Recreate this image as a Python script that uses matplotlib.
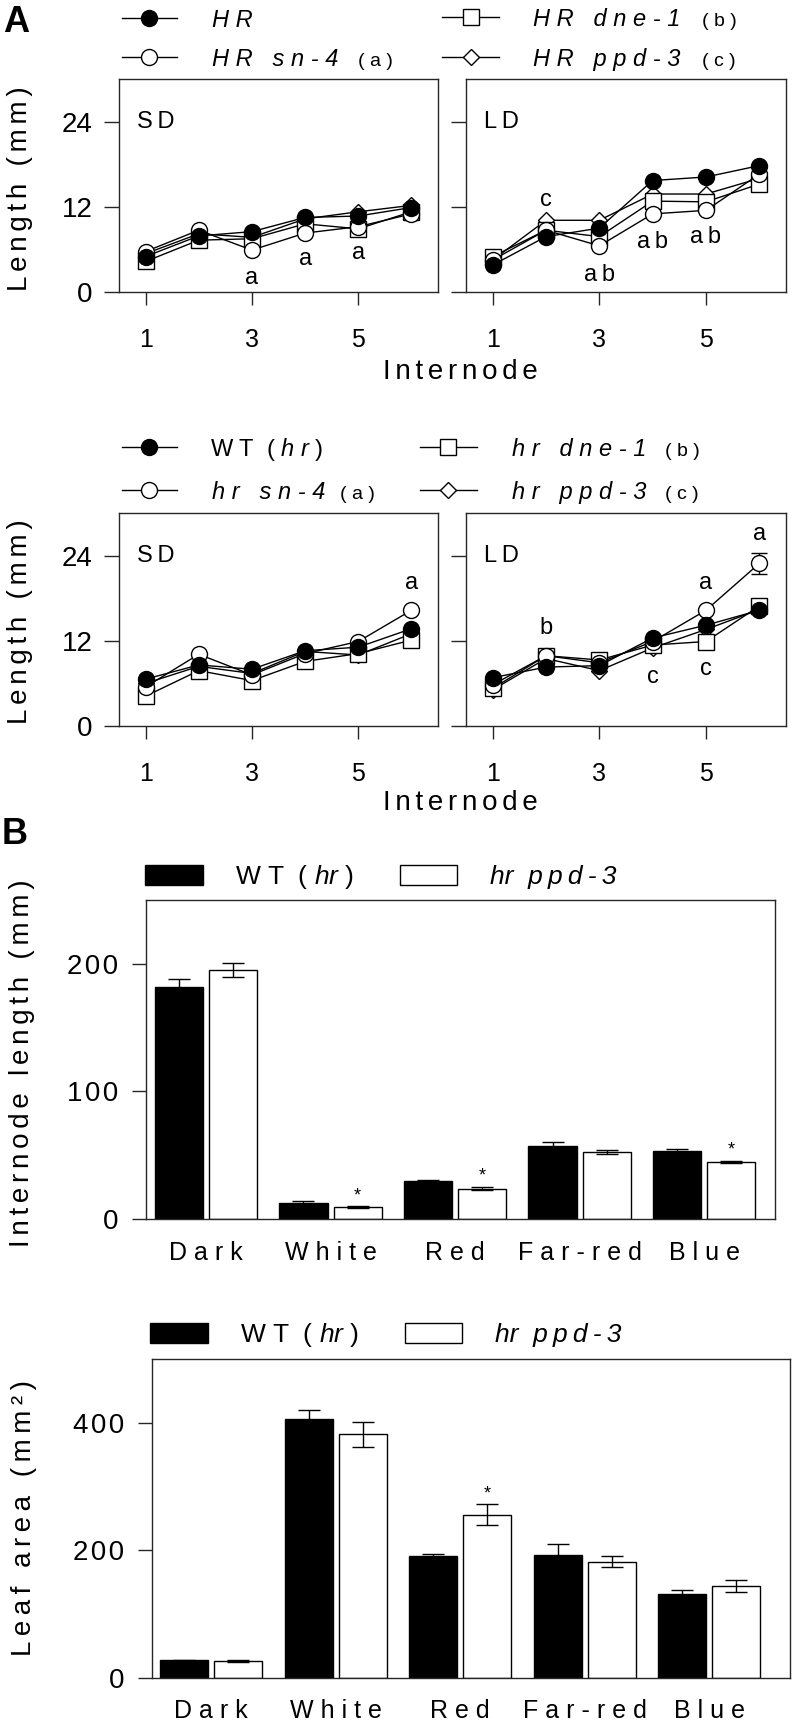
import numpy as np
import matplotlib
matplotlib.use("Agg")
import matplotlib.pyplot as plt
from matplotlib.lines import Line2D
from matplotlib.patches import Rectangle

# ---------------- data ----------------
internode = [1, 2, 3, 4, 5, 6]

# Row 1 (HR background)
HR_SD = [5.0, 7.9, 8.5, 10.5, 10.7, 11.9]
HR_sn4_SD = [5.7, 8.7, 5.9, 8.3, 9.2, 11.0]
HR_dne1_SD = [4.3, 7.3, 7.5, 9.6, 8.9, 11.3]
HR_ppd3_SD = [5.4, 8.2, 7.7, 10.3, 11.3, 12.2]

HR_LD = [3.8, 7.8, 9.0, 15.7, 16.2, 17.8]
HR_sn4_LD = [4.5, 8.7, 6.5, 11.0, 11.5, 16.6]
HR_dne1_LD = [5.0, 8.7, 7.8, 12.8, 12.7, 15.2]
HR_ppd3_LD = [4.5, 10.1, 10.1, 13.8, 13.8, 16.0]

# Row 2 (hr background)
WT_SD = [6.6, 8.6, 8.0, 10.6, 11.1, 13.7]
sn4_SD = [5.5, 10.1, 7.2, 10.2, 11.9, 16.3]
dne1_SD = [4.2, 7.8, 6.4, 9.1, 10.2, 12.1]
ppd3_SD = [6.0, 8.4, 7.4, 10.5, 10.0, 13.0]

WT_LD = [6.8, 8.3, 8.5, 12.4, 14.2, 16.3]
sn4_LD = [5.8, 9.9, 8.9, 11.9, 16.3, 22.9]
dne1_LD = [5.3, 9.9, 9.3, 11.4, 11.9, 16.9]
ppd3_LD = [5.1, 9.5, 7.8, 11.0, 13.6, 16.4]
sn4_LD_err6 = 1.5

# significance letters: (internode, y, text)
sig_r1_SD = [(3, 2.0, "a"), (4, 4.6, "a"), (5, 5.5, "a")]
sig_r1_LD = [(2, 12.9, "c"), (3, 2.4, "ab"), (4, 7.0, "ab"), (5, 7.7, "ab")]
sig_r2_SD = [(6, 20.1, "a")]
sig_r2_LD = [(2, 13.8, "b"), (4, 6.9, "c"), (5, 8.0, "c"), (5, 20.1, "a"), (6, 27.0, "a")]

# Panel B bars
light = ["Dark", "White", "Red", "Far-red", "Blue"]
IL_WT = [181.6, 12.8, 29.6, 57.4, 53.0]
IL_WT_err = [6.5, 1.0, 0.8, 2.9, 1.5]
IL_ppd = [195.5, 9.4, 23.9, 52.4, 44.6]
IL_ppd_err = [5.5, 0.6, 1.2, 1.8, 1.0]
IL_sig = [False, True, True, False, True]

LA_WT = [27.6, 406.0, 190.6, 193.0, 131.8]
LA_WT_err = [1.0, 13.5, 3.6, 17.0, 6.8]
LA_ppd = [26.6, 381.8, 256.0, 182.3, 144.3]
LA_ppd_err = [1.0, 19.8, 16.0, 8.5, 9.3]
LA_sig = [False, False, True, False, False]

# ---------------- style ----------------
W, H = 794, 1722
plt.rcParams["font.family"] = ["Liberation Sans", "DejaVu Sans"]
plt.rcParams["mathtext.fontset"] = "custom"
plt.rcParams["mathtext.rm"] = "Liberation Sans"
plt.rcParams["mathtext.it"] = "Liberation Sans:italic"
plt.rcParams["mathtext.bf"] = "Liberation Sans:bold"
SPINE = "#262626"
THIN = "\u2009"
HAIR = "\u200a"
SEP_CANDS = ["", HAIR, HAIR + HAIR, THIN, THIN + HAIR, THIN + HAIR + HAIR,
             THIN + THIN, " "]


def sp(s, sep=THIN):
    return sep.join(s)


def spaced(words, sep):
    return (sep + " " + sep).join(sep.join(w) for w in words)


fig = plt.figure(figsize=(W / 100, H / 100), dpi=100)
renderer = fig.canvas.get_renderer()


def fit_text(t, words, target):
    """Pick letter spacing so the text's long side is near target pixels."""
    best, bestd = None, 1e9
    for sep in SEP_CANDS:
        s = spaced(words, sep)
        t.set_text(s)
        bb = t.get_window_extent(renderer)
        L = max(bb.width, bb.height)
        d = abs(L - target)
        if d < bestd:
            best, bestd = s, d
    t.set_text(best)
    return t


def add_ax(l, t, r, b):
    return fig.add_axes([l / W, 1 - b / H, (r - l) / W, (b - t) / H])


def fx(x):
    return x / W


def fy(y):
    return 1 - y / H


series_styles = [
    dict(marker="D", mfc="white", ms=8.5),
    dict(marker="s", mfc="white", ms=11),
    dict(marker="o", mfc="white", ms=11.5),
    dict(marker="o", mfc="black", ms=11.5),
]


def line_panel(ax, series, letters, tag, ylabels=True):
    ax.set_xlim(0.5, 6.5)
    ax.set_ylim(0, 30)
    for vals, st in zip(series, series_styles):
        ax.plot(internode, vals, color="black", lw=1.0, mec="black", mew=1.0,
                clip_on=False, zorder=3, **st)
    for s in ax.spines.values():
        s.set_linewidth(1.0)
        s.set_color(SPINE)
    ax.set_xticks([1, 3, 5])
    ax.set_yticks([0, 12, 24])
    ax.tick_params(axis="y", direction="out", length=11, width=1.0, color=SPINE,
                   labelsize=20, pad=8)
    ax.tick_params(axis="x", direction="out", length=9, width=1.0, color=SPINE,
                   labelsize=18, pad=17)
    if not ylabels:
        ax.set_yticklabels([])
    for x, y, t in letters:
        ax.text(x, y, sp(t, THIN), ha="center", va="center", fontsize=17)
    ax.text(0.057, 0.80, sp(tag), transform=ax.transAxes, ha="left",
            va="center", fontsize=17)
    return ax


# ---------- Row 1 ----------
ax1 = add_ax(119, 79, 438, 292)
line_panel(ax1, [HR_ppd3_SD, HR_dne1_SD, HR_sn4_SD, HR_SD], sig_r1_SD, "SD")
ax2 = add_ax(466, 79, 786, 292)
line_panel(ax2, [HR_ppd3_LD, HR_dne1_LD, HR_sn4_LD, HR_LD], sig_r1_LD, "LD", ylabels=False)

# ---------- Row 2 ----------
ax3 = add_ax(119, 513, 438, 726)
line_panel(ax3, [ppd3_SD, dne1_SD, sn4_SD, WT_SD], sig_r2_SD, "SD")
ax4 = add_ax(466, 513, 786, 726)
line_panel(ax4, [ppd3_LD, dne1_LD, sn4_LD, WT_LD], sig_r2_LD, "LD", ylabels=False)
ax4.errorbar([internode[5]], [sn4_LD[5]], yerr=[sn4_LD_err6], fmt="none",
             ecolor="black", elinewidth=1.0, capsize=6, capthick=1.0, zorder=2)

for yc in (189, 622):
    t = fig.text(fx(20), fy(yc), "Length (mm)", rotation=90,
                 ha="center", va="center", fontsize=20)
    fit_text(t, ["Length", "(mm)"], 208)
for yc in (372, 803):
    t = fig.text(fx(460), fy(yc), "Internode", ha="center", va="center", fontsize=20)
    fit_text(t, ["Internode"], 157)


# legends for line panels
def leg_entry(x1, x2, xm, y, st):
    fig.add_artist(Line2D([fx(x1), fx(x2)], [fy(y), fy(y)], color="black", lw=1.0,
                          transform=fig.transFigure))
    fig.add_artist(Line2D([fx(xm)], [fy(y)], color="black", mec="black", mew=1.0,
                          transform=fig.transFigure, **st))


def leg_text(x, y, main, paren=None, px=None, mathmain=False):
    if mathmain:
        fig.text(fx(x), fy(y + 9), main, ha="left", va="baseline", fontsize=17)
    else:
        fig.text(fx(x), fy(y + 9), main, ha="left", va="baseline", fontsize=17,
                 style="italic")
    if paren:
        fig.text(fx(px), fy(y + 9), paren, ha="left", va="baseline", fontsize=14)


# row 1 legends
leg_entry(122, 177, 149, 18, series_styles[3])
leg_text(212, 18, "H R")
leg_entry(122, 177, 149, 57, series_styles[2])
leg_text(212, 57, "H R   s n - 4", "( a )", 358)
leg_entry(442, 499, 471, 17, series_styles[1])
leg_text(533, 17, "H R   d n e - 1", "( b )", 702)
leg_entry(442, 499, 471, 57, series_styles[0])
leg_text(533, 57, "H R   p p d - 3", "( c )", 702)

# row 2 legends
leg_entry(122, 177, 149, 447, series_styles[3])
leg_text(210, 447, r"W T  ( $\mathit{h\ r}$ )", mathmain=True)
leg_entry(122, 177, 149, 490, series_styles[2])
leg_text(212, 490, "h r   s n - 4", "( a )", 340)
leg_entry(420, 477, 448, 447, series_styles[1])
leg_text(512, 447, "h r   d n e - 1", "( b )", 665)
leg_entry(420, 477, 448, 490, series_styles[0])
leg_text(512, 490, "h r   p p d - 3", "( c )", 665)

# panel letters
fig.text(fx(3), fy(23), "A", ha="left", va="center", fontsize=26, fontweight="bold")
fig.text(fx(2), fy(835), "B", ha="left", va="center", fontsize=26, fontweight="bold")

# ---------- bar charts ----------
BW = 0.386
OFF = 0.217


def bar_panel(ax, wt, wte, pp, ppe, sig, ymax, yticks, xlim, labpad):
    x = np.arange(len(light))
    ekw = dict(ecolor="black", elinewidth=1.0, capsize=8, capthick=1.0)
    ax.bar(x - OFF, wt, width=BW, color="black", edgecolor="black", lw=1.0,
           yerr=wte, error_kw=ekw)
    ax.bar(x + OFF, pp, width=BW, color="white", edgecolor="black", lw=1.0,
           yerr=ppe, error_kw=ekw)
    for i in range(len(light)):
        if sig[i]:
            ax.annotate("*", (x[i] + OFF, pp[i] + ppe[i]), xytext=(0, 1.5),
                        textcoords="offset points", ha="center", va="bottom",
                        fontsize=13)
    ax.set_xlim(*xlim)
    ax.set_ylim(0, ymax)
    ax.set_yticks(yticks)
    ax.set_yticklabels([sp(str(v), HAIR) for v in yticks])
    ax.set_xticks(x)
    ax.set_xticklabels([sp(c, " ") for c in light])
    for s in ax.spines.values():
        s.set_linewidth(1.0)
        s.set_color(SPINE)
    ax.tick_params(axis="y", direction="out", length=10, width=1.0, color=SPINE,
                   labelsize=20, pad=10)
    ax.tick_params(axis="x", length=0, labelsize=18, pad=labpad)


def bar_legend(xb1, xw1, xt1, xt2, y):
    fig.add_artist(Rectangle((fx(xb1), fy(y + 10)), 58 / W, 20 / H, facecolor="black",
                             edgecolor="black", lw=1.0, transform=fig.transFigure))
    fig.add_artist(Rectangle((fx(xw1), fy(y + 10)), 57 / W, 20 / H, facecolor="white",
                             edgecolor="black", lw=1.0, transform=fig.transFigure))
    fig.text(fx(xt1), fy(y + 9), r"W T  ( $\mathit{hr}$ )", ha="left", va="baseline",
             fontsize=19)
    fig.text(fx(xt2), fy(y + 9), "hr  " + sp("ppd-3"), ha="left", va="baseline",
             fontsize=19, style="italic")


axb1 = add_ax(146, 900, 775, 1219)
bar_panel(axb1, IL_WT, IL_WT_err, IL_ppd, IL_ppd_err, IL_sig, 250, [0, 100, 200],
          (-0.482, 4.57), 16)
bar_legend(145, 400, 235, 490, 875)
t = fig.text(fx(22), fy(1063), "Internode length (mm)",
             rotation=90, ha="center", va="center", fontsize=20)
fit_text(t, ["Internode", "length", "(mm)"], 367)

axb2 = add_ax(152, 1359, 790, 1678)
bar_panel(axb2, LA_WT, LA_WT_err, LA_ppd, LA_ppd_err, LA_sig, 500, [0, 200, 400],
          (-0.474, 4.647), 15)
bar_legend(150, 405, 240, 495, 1333)
t = fig.text(fx(24), fy(1518), "Leaf area (mm²)",
             rotation=90, ha="center", va="center", fontsize=20)
fit_text(t, ["Leaf", "area", "(mm²)"], 277)

fig.savefig("out.png", dpi=100)
